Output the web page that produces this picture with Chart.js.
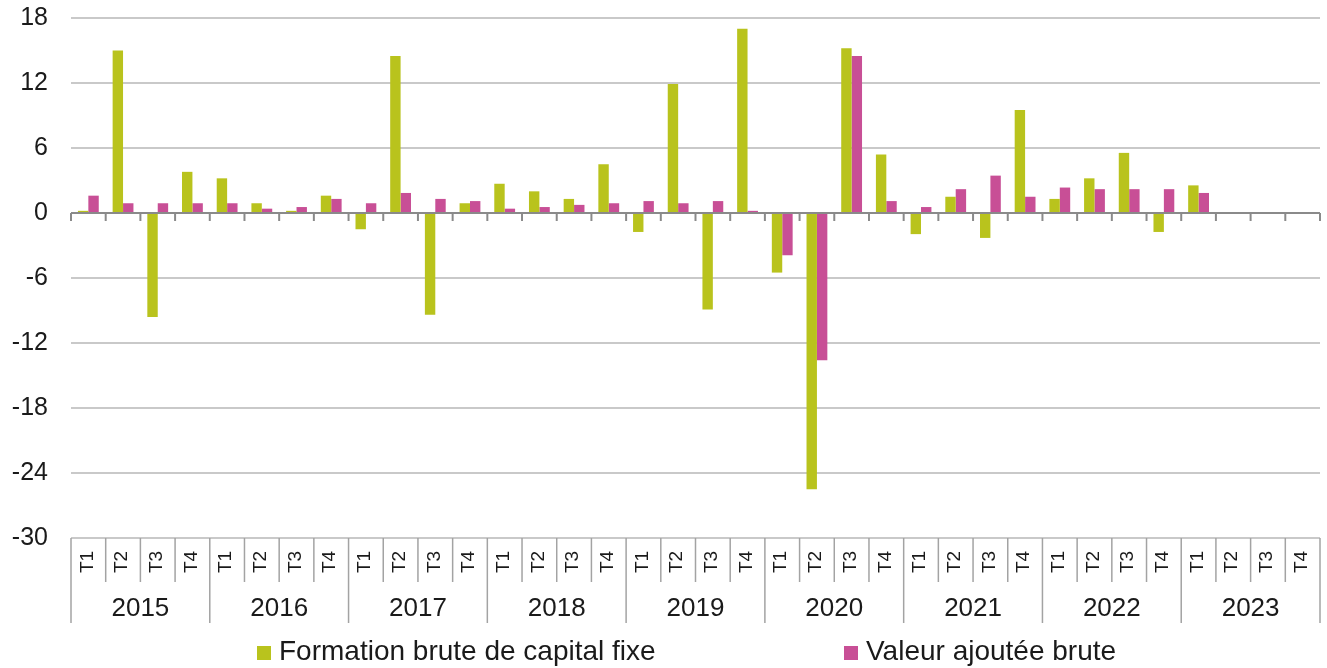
<!DOCTYPE html>
<html>
<head>
<meta charset="utf-8">
<script src="https://cdn.jsdelivr.net/npm/chart.js@4"></script>
<style>
  html, body { margin: 0; padding: 0; background: #fff; }
  #wrap { width: 1327px; height: 668px; }
</style>
</head>
<body>
<div id="wrap"><canvas id="chart"></canvas></div>
<script>
const years = ["2015", "2016", "2017", "2018", "2019", "2020", "2021", "2022", "2023"];
const quarters = ["T1", "T2", "T3", "T4"];

// Formation brute de capital fixe (évolution trimestrielle, %)
const fbcf = [0.2, 15.0, -9.6, 3.8, 3.2, 0.9, 0.2, 1.6, -1.5, 14.5, -9.4, 0.9,
              2.7, 2.0, 1.3, 4.5, -1.75, 11.9, -8.9, 17.0, -5.5, -25.5, 15.2, 5.4,
              -1.95, 1.5, -2.3, 9.5, 1.3, 3.2, 5.55, -1.75, 2.55, null, null, null];
// Valeur ajoutée brute
const vab = [1.6, 0.9, 0.9, 0.9, 0.9, 0.4, 0.55, 1.3, 0.9, 1.85, 1.3, 1.1,
             0.4, 0.55, 0.75, 0.9, 1.1, 0.9, 1.1, 0.2, -3.9, -13.6, 14.5, 1.1,
             0.55, 2.2, 3.45, 1.5, 2.35, 2.2, 2.2, 2.2, 1.85, null, null, null];

const yMin = -30, yMax = 18, yStep = 6;

const seriesNames = ["Formation brute de capital fixe", "Valeur ajoutée brute"];
const seriesColors = ["#b9c31d", "#c84f96"];

const labels = [];
years.forEach(y => quarters.forEach(q => labels.push(y + " " + q)));

const FONT = '"Liberation Sans", Arial, sans-serif';

// draws the ticks on the zero line, the category boxes with quarters / years, and the legend
const boxPlugin = {
  id: "catBox",
  afterDraw(chart) {
    const { ctx, chartArea: a, scales: { x, y } } = chart;
    const n = chart.data.labels.length;
    const edge = i => i === 0 ? a.left : i === n ? a.right
      : (x.getPixelForValue(i - 1) + x.getPixelForValue(i)) / 2;
    const zero = y.getPixelForValue(0);

    ctx.save();
    ctx.strokeStyle = "#8a8a8a";
    ctx.lineWidth = 2;
    for (let i = 0; i <= n; i++) {
      ctx.beginPath();
      ctx.moveTo(edge(i), zero);
      ctx.lineTo(edge(i), zero + 8);
      ctx.stroke();
    }

    ctx.strokeStyle = "#a3a3a3";
    ctx.lineWidth = 1.5;
    for (let i = 0; i <= n; i++) {
      const h = i % 4 === 0 ? 85 : 44;
      ctx.beginPath();
      ctx.moveTo(edge(i), a.bottom);
      ctx.lineTo(edge(i), a.bottom + h);
      ctx.stroke();
    }

    ctx.fillStyle = "#1a1a1a";
    ctx.font = "19px " + FONT;
    ctx.textAlign = "center";
    ctx.textBaseline = "middle";
    for (let i = 0; i < n; i++) {
      ctx.save();
      ctx.translate(x.getPixelForValue(i) - 1, a.bottom + 24);
      ctx.rotate(-Math.PI / 2);
      ctx.fillText(quarters[i % 4], 0, 0);
      ctx.restore();
    }

    ctx.font = "26px " + FONT;
    ctx.textBaseline = "alphabetic";
    years.forEach((yr, k) => {
      ctx.fillText(yr, (edge(4 * k) + edge(4 * k + 4)) / 2, a.bottom + 78);
    });

    // legend
    ctx.font = "28px " + FONT;
    ctx.textAlign = "left";
    const legendX = [257, 844];
    const legendY = chart.height - 8;
    seriesNames.forEach((name, k) => {
      ctx.fillStyle = seriesColors[k];
      ctx.fillRect(legendX[k], legendY - 14, 14, 14);
      ctx.fillStyle = "#1a1a1a";
      ctx.fillText(name, legendX[k] + 22, legendY);
    });
    ctx.restore();
  }
};

new Chart(document.getElementById("chart"), {
  type: "bar",
  data: {
    labels,
    datasets: [
      { label: seriesNames[0], data: fbcf, backgroundColor: seriesColors[0] },
      { label: seriesNames[1], data: vab, backgroundColor: seriesColors[1] }
    ]
  },
  options: {
    responsive: true,
    maintainAspectRatio: false,
    animation: false,
    devicePixelRatio: 1,
    datasets: { bar: { categoryPercentage: 0.6, barPercentage: 1.0 } },
    layout: { padding: { left: 12, right: 7, top: 18, bottom: 130 } },
    plugins: { legend: { display: false }, tooltip: { enabled: false } },
    scales: {
      x: { display: false },
      y: {
        min: yMin,
        max: yMax,
        afterFit: s => { s.width = 59; s.paddingTop = 0; s.paddingBottom = 0; },
        ticks: { stepSize: yStep, padding: 23, color: "#1a1a1a", font: { family: FONT, size: 25 } },
        grid: {
          color: c => c.tick && c.tick.value === 0 ? "#8a8a8a" : "#c9c9c9",
          lineWidth: 2,
          drawTicks: false
        },
        border: { display: false }
      }
    }
  },
  plugins: [boxPlugin]
});
</script>
</body>
</html>
